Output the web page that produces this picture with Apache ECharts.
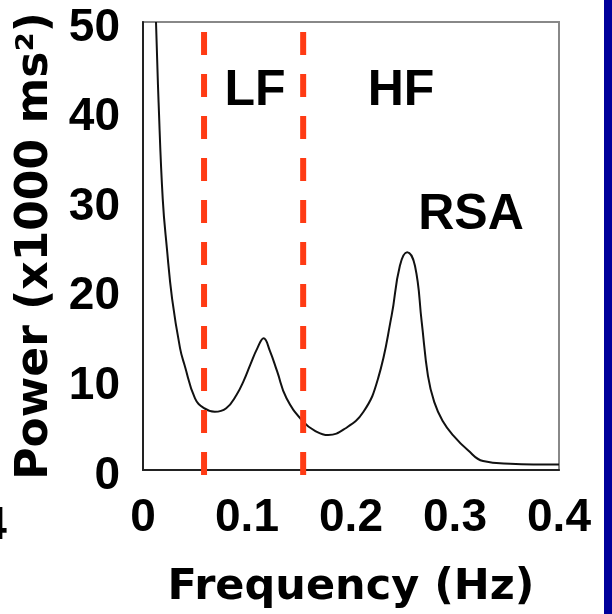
<!DOCTYPE html>
<html>
<head>
<meta charset="utf-8">
<script src="https://cdn.jsdelivr.net/npm/echarts@6/dist/echarts.min.js"></script>
<style>
html,body{margin:0;padding:0;background:#fff;}
#chart{width:612px;height:614px;}
</style>
</head>
<body>
<div id="chart"></div>
<script>
// Frequency (Hz) and power (x1000 ms^2)
const freq = [0.0125, 0.015, 0.019, 0.023, 0.028, 0.0356, 0.040, 0.050, 0.0587, 0.069, 0.080, 0.090, 0.097, 0.103, 0.110, 0.116, 0.122, 0.129, 0.138, 0.154, 0.165, 0.178, 0.194, 0.212, 0.226, 0.239, 0.247, 0.254, 0.2615, 0.268, 0.274, 0.280, 0.288, 0.298, 0.3125, 0.327, 0.353, 0.400];
const power = [50, 41, 30.2, 24.7, 19.1, 13.6, 11.7, 8.0, 6.9, 6.5, 6.9, 8.4, 10.0, 11.7, 13.6, 14.7, 13.3, 11.0, 8.0, 5.4, 4.4, 3.9, 4.6, 6.5, 10.2, 17.2, 22.8, 24.3, 22.8, 16.5, 10.5, 7.6, 5.5, 3.9, 2.2, 1.0, 0.7, 0.6];
// band boundaries (dashed red lines)
const bandEdges = [0.0587, 0.154];
const xTicks = [0, 0.1, 0.2, 0.3, 0.4];
const yTicks = [0, 10, 20, 30, 40, 50];
// text annotations: [name, freq, power]
const annotations = [["LF", 0.1077, 42.3], ["HF", 0.2481, 42.3], ["RSA", 0.3154, 28.4]];

const curve = freq.map((f, i) => [f, power[i]]);
const bandSeries = bandEdges.map(f => ({
  type: 'line',
  data: [[f, -0.56], [f, 50.9]],
  clip: false,
  symbol: 'none',
  silent: true,
  z: 5,
  lineStyle: { color: '#ff3b14', width: 6, type: [23, 19] }
}));

const chart = echarts.init(document.getElementById('chart'), null, { renderer: 'canvas' });
chart.setOption({
  backgroundColor: '#ffffff',
  animation: false,
  grid: { left: 143, right: 53, top: 22, bottom: 142, show: true, borderColor: '#888', borderWidth: 2, backgroundColor: 'transparent' },
  xAxis: {
    type: 'value', min: xTicks[0], max: xTicks[xTicks.length - 1], interval: 0.1,
    name: 'Frequency (Hz)', nameLocation: 'middle', nameGap: 96,
    nameTextStyle: { fontFamily: 'DejaVu Sans', fontWeight: 'bold', fontSize: 43, color: '#000' },
    axisLine: { show: true, lineStyle: { color: '#222', width: 2 } },
    axisTick: { show: false },
    splitLine: { show: false },
    axisLabel: { margin: 25, fontFamily: 'Liberation Sans', fontWeight: 'bold', fontSize: 46, color: '#000',
      formatter: v => String(v) }
  },
  yAxis: {
    type: 'value', min: yTicks[0], max: yTicks[yTicks.length - 1], interval: 10,
    name: 'Power (x1000 ms²)', nameLocation: 'middle', nameGap: 64,
    nameTextStyle: { fontFamily: 'DejaVu Sans', fontWeight: 'bold', fontSize: 44, color: '#000' },
    axisLine: { show: true, lineStyle: { color: '#222', width: 2 } },
    axisTick: { show: false },
    splitLine: { show: false },
    axisLabel: { margin: 23, fontFamily: 'Liberation Sans', fontWeight: 'bold', fontSize: 46, color: '#000',
      verticalAlign: 'top', lineHeight: 12 }
  },
  series: [
    {
      type: 'line', data: curve, symbol: 'none', smooth: 0.45,
      lineStyle: { color: '#111', width: 2 }, z: 3
    },
    ...bandSeries,
    {
      type: 'scatter', symbolSize: 0, silent: true, z: 6,
      itemStyle: { opacity: 1 },
      data: annotations.map(a => ({ name: a[0], value: [a[1], a[2]] })),
      label: { show: true, position: 'inside', formatter: p => p.name, opacity: 1,
        fontFamily: 'Liberation Sans', fontWeight: 'bold', fontSize: 50, color: '#000', textBorderWidth: 0 }
    }
  ],
  graphic: [
    { type: 'rect', shape: { x: 604, y: 0, width: 8, height: 614 }, style: { fill: '#00009b' }, silent: true },
    { type: 'text', left: -57, top: 503, style: { text: '0.4', font: 'bold 46px "Liberation Sans"', fill: '#000' }, silent: true }
  ]
});
</script>
</body>
</html>
